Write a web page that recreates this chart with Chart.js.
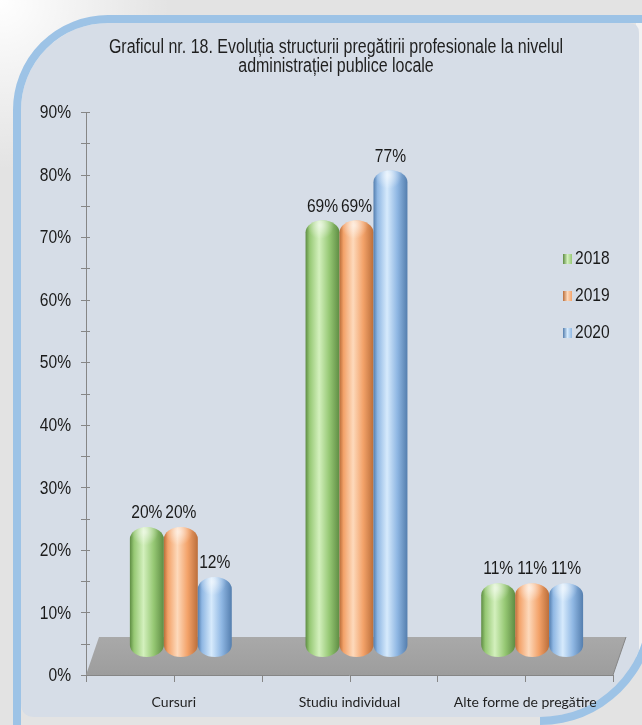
<!DOCTYPE html>
<html>
<head>
<meta charset="utf-8">
<title>Graficul nr. 18</title>
<script src="https://cdn.jsdelivr.net/npm/chart.js@4.4.1/dist/chart.umd.min.js"></script>
<style>
  html, body { margin: 0; padding: 0; background: #e2e2e2; }
  canvas { display: block; }
</style>
</head>
<body>
<canvas id="chart" width="642" height="725"></canvas>
<script>
const categories = ['Cursuri', 'Studiu individual', 'Alte forme de pregătire'];
const years = ['2018', '2019', '2020'];
const share2018 = [20, 69, 11];
const share2019 = [20, 69, 11];
const share2020 = [12, 77, 11];
const yMax = 90;
const yStep = 10;
const titleLines = [
    'Graficul nr. 18. Evoluția structurii pregătirii profesionale la nivelul',
    'administrației publice locale'
];

// base / dark edge / highlight for each year
const palette = [
    { base: '#96c874', dark: '#5e8c43', light: '#d3f0bd' },
    { base: '#f3a269', dark: '#bb6e3a', light: '#fdd9bb' },
    { base: '#8fb7e3', dark: '#547eae', light: '#d6eafc' }
];

const SANS = '"Liberation Sans", Arial, sans-serif';
const CONDENSE = 0.82;  // squeeze Liberation Sans to a narrow face
const FLOOR_DX = 13;    // floor depth, horizontal
const FLOOR_DY = 38;    // floor depth, vertical
const BAR_DX = 7;       // bars stand in the middle of the floor
const BAR_DY = 18;

function narrowText(ctx, text, x, y, size, align, color) {
    ctx.save();
    ctx.font = size + 'px ' + SANS;
    ctx.fillStyle = color || '#1a1a1a';
    ctx.textAlign = align;
    ctx.textBaseline = 'middle';
    ctx.translate(x, y);
    ctx.scale(CONDENSE, 1);
    ctx.fillText(text, 0, 0);
    ctx.restore();
}

function panelPath(ctx) {
    ctx.beginPath();
    ctx.moveTo(21, 110);
    ctx.arc(108, 110, 87, Math.PI, 1.5 * Math.PI);
    ctx.lineTo(629, 23);
    ctx.quadraticCurveTo(639, 23, 639, 33);
    ctx.lineTo(639, 650);
    ctx.arc(540, 610, 107, Math.atan2(40, 99), Math.PI / 2);
    ctx.lineTo(35, 717);
    ctx.quadraticCurveTo(21, 717, 21, 703);
    ctx.closePath();
}

// backdrop, rounded panel with its blue outline, title
const framePlugin = {
    id: 'frame',
    beforeDraw(chart) {
        const ctx = chart.ctx;
        const w = chart.width, h = chart.height;
        ctx.save();
        ctx.fillStyle = '#e3e3e3';
        ctx.fillRect(0, 0, w, h);
        const glow = ctx.createRadialGradient(0, 0, 0, 0, 0, 170);
        glow.addColorStop(0, '#ffffff');
        glow.addColorStop(1, 'rgba(255,255,255,0)');
        ctx.fillStyle = glow;
        ctx.fillRect(0, 0, w, h);
        ctx.fillStyle = '#f1f2f3';
        ctx.fillRect(636, 20, 6, 640);

        panelPath(ctx);
        ctx.fillStyle = '#d6dde7';
        ctx.fill();

        ctx.strokeStyle = '#9dc3e6';
        ctx.lineWidth = 8;
        ctx.beginPath();
        ctx.moveTo(17, 740);
        ctx.lineTo(17, 110);
        ctx.arc(108, 110, 91, Math.PI, 1.5 * Math.PI);
        ctx.lineTo(660, 19);
        ctx.stroke();
        ctx.beginPath();
        ctx.arc(540, 610, 111, -0.2, Math.PI / 2);
        ctx.stroke();
        ctx.restore();

        titleLines.forEach((line, i) => narrowText(ctx, line, 336, 48 + i * 19, 19.5, 'center', '#1f1f1f'));
    }
};

function drawCylinder(ctx, cx, top, bottom, w, c) {
    const rx = w / 2;
    const ry = Math.min(12, (bottom - top) / 2);
    const l = cx - rx, r = cx + rx;
    ctx.beginPath();
    ctx.moveTo(l, top + ry);
    ctx.ellipse(cx, top + ry, rx, ry, 0, Math.PI, 2 * Math.PI);
    ctx.lineTo(r, bottom - ry);
    ctx.ellipse(cx, bottom - ry, rx, ry, 0, 0, Math.PI);
    ctx.closePath();
    const g = ctx.createLinearGradient(l, 0, r, 0);
    g.addColorStop(0, c.dark);
    g.addColorStop(0.12, c.base);
    g.addColorStop(0.4, c.light);
    g.addColorStop(0.7, c.base);
    g.addColorStop(1, c.dark);
    ctx.fillStyle = g;
    ctx.fill();

    // lit top face
    ctx.save();
    ctx.clip();
    const cap = ctx.createRadialGradient(cx - 2, top + 5, 1, cx - 2, top + 5, rx * 0.8);
    cap.addColorStop(0, 'rgba(255,255,255,0.55)');
    cap.addColorStop(1, 'rgba(255,255,255,0)');
    ctx.fillStyle = cap;
    ctx.fillRect(l, top, w, 2 * ry);
    ctx.restore();
}

// floor, tick marks, value axis labels, cylinders, value labels and legend
const sceneryPlugin = {
    id: 'scenery',
    beforeDatasetsDraw(chart) {
        const ctx = chart.ctx;
        const area = chart.chartArea;
        const xs = chart.scales.x, ys = chart.scales.y;
        const y0 = ys.getPixelForValue(0);
        ctx.save();
        ctx.beginPath();
        ctx.moveTo(area.left, y0);
        ctx.lineTo(area.right, y0);
        ctx.lineTo(area.right + FLOOR_DX, y0 - FLOOR_DY);
        ctx.lineTo(area.left + FLOOR_DX, y0 - FLOOR_DY);
        ctx.closePath();
        const fg = ctx.createLinearGradient(0, y0 - FLOOR_DY, 0, y0);
        fg.addColorStop(0, '#a9a9a9');
        fg.addColorStop(1, '#9d9d9d');
        ctx.fillStyle = fg;
        ctx.fill();

        ctx.strokeStyle = '#868686';
        ctx.lineWidth = 1;
        ctx.beginPath();
        ctx.moveTo(area.left, y0 + 0.5);
        ctx.lineTo(area.right, y0 + 0.5);
        ctx.moveTo(area.right + FLOOR_DX, y0 - FLOOR_DY);
        ctx.lineTo(area.right, y0);
        // value axis tick marks every half step
        for (let v = 0; v <= yMax; v += yStep / 2) {
            const py = Math.round(ys.getPixelForValue(v)) + 0.5;
            ctx.moveTo(area.left - 5, py);
            ctx.lineTo(area.left + 4, py);
        }
        // category axis tick marks at centres and boundaries
        const half = (xs.getPixelForValue(1) - xs.getPixelForValue(0)) / 2;
        categories.forEach((c, i) => {
            const px = xs.getPixelForValue(i);
            [px - half, px, px + half].forEach(p => {
                const q = Math.round(p) + 0.5;
                ctx.moveTo(q, y0);
                ctx.lineTo(q, y0 + 7);
            });
        });
        ctx.stroke();
        ctx.restore();

        ys.ticks.forEach(t => {
            narrowText(ctx, t.value + '%', area.left - 15, ys.getPixelForValue(t.value) + 1, 19, 'right');
        });
    },
    beforeDatasetDraw() {
        return false;
    },
    afterDatasetsDraw(chart) {
        const ctx = chart.ctx;
        chart.data.datasets.forEach((ds, di) => {
            const meta = chart.getDatasetMeta(di);
            meta.data.forEach((el, i) => {
                const p = el.getProps(['x', 'y', 'base', 'width'], true);
                const cx = p.x + BAR_DX;
                const top = p.y - BAR_DY - 5;
                const bottom = p.base - BAR_DY;
                ctx.save();
                drawCylinder(ctx, cx, top, bottom, p.width, palette[di]);
                ctx.restore();
                narrowText(ctx, ds.data[i] + '%', cx, top - 14, 19, 'center');
            });
        });

        // legend
        chart.data.datasets.forEach((ds, di) => {
            const ly = 259 + di * 37;
            const c = palette[di];
            const g = ctx.createLinearGradient(563, 0, 572, 0);
            g.addColorStop(0, c.dark);
            g.addColorStop(0.5, c.light);
            g.addColorStop(1, c.base);
            ctx.save();
            ctx.fillStyle = g;
            ctx.fillRect(563, ly - 5, 9, 10);
            ctx.restore();
            narrowText(ctx, ds.label, 575, ly, 19, 'left');
        });
    }
};

const seriesValues = [share2018, share2019, share2020];

new Chart(document.getElementById('chart').getContext('2d'), {
    type: 'bar',
    data: {
        labels: categories,
        datasets: years.map((y, i) => ({
            label: y,
            data: seriesValues[i],
            backgroundColor: palette[i].base,
            categoryPercentage: 0.58,
            barPercentage: 1
        }))
    },
    options: {
        responsive: false,
        animation: false,
        layout: { padding: { top: 112, right: 29, bottom: 0, left: 0 } },
        plugins: {
            legend: { display: false },
            title: { display: false },
            tooltip: { enabled: false }
        },
        scales: {
            x: {
                grid: { display: false, drawTicks: false },
                border: { display: false },
                ticks: {
                    font: { family: 'Lato', size: 14 },
                    color: '#1f1f1f',
                    padding: 19,
                    maxRotation: 0,
                    autoSkip: false
                },
                afterFit: s => { s.height = 50; }
            },
            y: {
                min: 0,
                max: yMax,
                ticks: { stepSize: yStep, display: false },
                grid: { display: false, drawTicks: false },
                border: { display: true, color: '#868686' },
                afterFit: s => { s.width = 86; }
            }
        }
    },
    plugins: [framePlugin, sceneryPlugin]
});
</script>
</body>
</html>
